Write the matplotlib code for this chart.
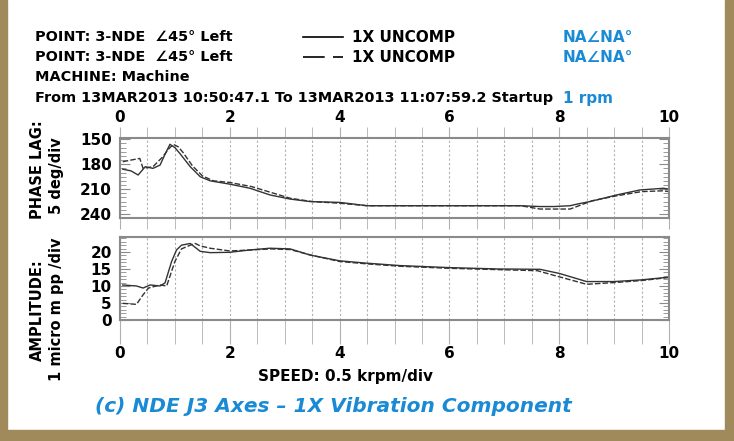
import matplotlib
matplotlib.use("Agg")
from matplotlib import pyplot as plt
from matplotlib.patches import Rectangle
from matplotlib.ticker import MultipleLocator

# speed axis in divisions (0.5 krpm/div)
phase_x1 = [0.05, 0.2, 0.33, 0.46, 0.6, 0.73, 0.82, 0.91, 1.0, 1.09, 1.28, 1.46, 1.64, 2.0, 2.37,
            2.73, 3.1, 3.46, 4.0, 4.5, 5.5, 6.5, 7.3, 7.65, 7.9, 8.2, 8.33, 8.56, 9.05, 9.47, 9.9, 10.0]
phase_y1 = [186, 188, 193, 183, 185, 181, 168, 156, 160, 167, 183, 195, 200, 204, 209,
            217, 222, 225, 226, 230, 230, 230, 230, 231, 231, 230, 228, 225, 217, 211, 209, 210]
phase_x2 = [0.05, 0.2, 0.36, 0.42, 0.6, 0.78, 0.88, 0.97, 1.06, 1.15, 1.32, 1.5, 1.7, 2.0, 2.4,
            2.75, 3.1, 3.5, 4.0, 4.5, 5.5, 6.5, 7.3, 7.65, 7.9, 8.2, 8.4, 8.6, 9.05, 9.5, 9.9, 10.0]
phase_y2 = [177, 175, 173, 185, 183, 171, 162, 156, 159, 166, 182, 194, 200, 202, 207,
            214, 221, 225, 227, 230, 230, 230, 230, 234, 234, 234, 229, 224, 218, 213, 212, 213]

amp_x1 = [0.05, 0.3, 0.42, 0.55, 0.73, 0.82, 0.94, 1.03, 1.12, 1.28, 1.46, 1.64, 2.0, 2.37,
          2.73, 3.1, 3.46, 4.0, 4.5, 5.1, 6.0, 6.9, 7.65, 8.0, 8.5, 9.0, 9.5, 10.0]
amp_y1 = [10.3, 10.0, 9.4, 10.3, 10.0, 10.9, 17.2, 20.6, 22.0, 22.5, 20.2, 19.8, 19.9, 20.6,
          21.1, 20.9, 19.1, 17.4, 16.7, 16.0, 15.4, 15.0, 14.9, 13.7, 11.3, 11.3, 11.8, 12.6]
amp_x2 = [0.05, 0.3, 0.42, 0.52, 0.73, 0.85, 1.0, 1.12, 1.28, 1.37, 1.46, 1.64, 2.0, 2.4,
          2.75, 3.1, 3.5, 4.0, 4.5, 5.1, 6.0, 6.9, 7.6, 8.0, 8.5, 9.0, 9.5, 10.0]
amp_y2 = [4.9, 4.6, 7.4, 9.4, 10.3, 10.0, 17.2, 20.9, 22.0, 22.5, 21.8, 21.1, 20.3, 20.6,
          20.9, 20.7, 19.0, 17.2, 16.5, 15.8, 15.2, 14.8, 14.5, 12.7, 10.5, 11.0, 11.6, 12.5]

phase_ticks = [150, 180, 210, 240]
amp_ticks = [0, 5, 10, 15, 20]
speed_ticks = [0, 2, 4, 6, 8, 10]

FONT = ["DejaVu Sans"]
BLUE = "#1a8ad4"
TAN = "#a08a5c"
FRAME = "#8a8a8a"
LINE = "#333333"
plt.rcParams["font.family"] = FONT
plt.rcParams["font.weight"] = "bold"

W, H = 734, 441
fig = plt.figure(figsize=(W / 100, H / 100), dpi=100)

# tan border strips
for (x0, y0, w, h) in [(0, 0, 7, H), (725, 0, 9, H), (0, 430, W, 11)]:
    fig.patches.append(Rectangle((x0 / W, 1 - (y0 + h) / H), w / W, h / H,
                                 transform=fig.transFigure, color=TAN, zorder=0))


def axes_px(left, top, right, bottom):
    return fig.add_axes([left / W, 1 - bottom / H, (right - left) / W, (bottom - top) / H])


def style(ax):
    for s in ax.spines.values():
        s.set_color(FRAME)
        s.set_linewidth(1.5)
    ax.set_xlim(0, 10)
    ax.xaxis.set_major_locator(MultipleLocator(2))
    ax.xaxis.set_minor_locator(MultipleLocator(0.5))
    ax.grid(True, axis="x", which="both", color="#b0b0b0", linestyle=(0, (2, 2)), linewidth=0.8)
    ax.tick_params(axis="y", which="both", direction="in", left=True, right=True,
                   color=FRAME, labelsize=11, pad=6)
    ax.tick_params(axis="y", which="major", length=7)
    ax.tick_params(axis="y", which="minor", length=4)


# phase panel
ax1 = axes_px(120, 138, 669, 218)
ax1.plot(phase_x1, phase_y1, color=LINE, lw=1.0)
ax1.plot(phase_x2, phase_y2, color=LINE, lw=1.0, linestyle=(0, (4, 1.5)))
ax1.set_ylim(244.8, 148.4)
ax1.set_yticks(phase_ticks)
ax1.yaxis.set_minor_locator(MultipleLocator(5))
style(ax1)
ax1.tick_params(axis="x", which="both", top=True, bottom=True, labeltop=True,
                labelbottom=False, direction="out", color="#b0b0b0", length=8,
                labelsize=11, pad=1)
ax1.set_xticks(speed_ticks)

# amplitude panel
ax2 = axes_px(120, 237, 669, 320)
ax2.plot(amp_x1, amp_y1, color=LINE, lw=1.0)
ax2.plot(amp_x2, amp_y2, color=LINE, lw=1.0, linestyle=(0, (4, 1.5)))
ax2.set_ylim(0, 24.4)
ax2.set_yticks(amp_ticks)
ax2.yaxis.set_minor_locator(MultipleLocator(1))
style(ax2)
ax2.tick_params(axis="x", which="both", direction="out", color="#b0b0b0", length=17,
                labelsize=11, pad=2)
ax2.set_xticks(speed_ticks)
for ax in (ax1, ax2):
    for lab in ax.get_xticklabels() + ax.get_yticklabels():
        lab.set_fontweight("bold")


def ftext(x, y, s, **kw):
    kw.setdefault("fontsize", 10.4)
    kw.setdefault("fontweight", "bold")
    kw.setdefault("va", "center")
    fig.text(x / W, 1 - y / H, s, **kw)


# header
ftext(35, 37, "POINT: 3-NDE  \u222045\u00b0 Left")
ftext(35, 57, "POINT: 3-NDE  \u222045\u00b0 Left")
ftext(35, 77, "MACHINE: Machine")
ftext(35, 98, "From 13MAR2013 10:50:47.1 To 13MAR2013 11:07:59.2 Startup")
ftext(563, 98, "1 rpm", color=BLUE, fontsize=11)
ftext(352, 37, "1X UNCOMP", fontsize=11)
ftext(352, 57, "1X UNCOMP", fontsize=11)
ftext(563, 37, "NA\u2220NA\u00b0", color=BLUE, fontsize=11)
ftext(563, 57, "NA\u2220NA\u00b0", color=BLUE, fontsize=11)
fig.lines.append(plt.Line2D([303 / W, 343 / W], [1 - 37 / H] * 2, color="black", lw=1.2,
                            transform=fig.transFigure))
fig.lines.append(plt.Line2D([303 / W, 345 / W], [1 - 57 / H] * 2, color="black", lw=1.2,
                            linestyle=(0, (13, 5, 6, 20)), transform=fig.transFigure))

# axis labels
ftext(38, 170, "PHASE LAG:", rotation=90, ha="center", fontsize=10.5)
ftext(57, 176, "5 deg/div", rotation=90, ha="center", fontsize=10.5)
ftext(37, 310, "AMPLITUDE:", rotation=90, ha="center", fontsize=10.5)
ftext(57, 309, "1 micro m pp /div", rotation=90, ha="center", fontsize=10.5)
ftext(345, 376, "SPEED: 0.5 krpm/div", ha="center", fontsize=11)
ftext(333, 406, "(c) NDE J3 Axes \u2013 1X Vibration Component", ha="center",
      color=BLUE, fontsize=14.5, fontstyle="italic")

fig.savefig("out.png", dpi=100, facecolor="white")
